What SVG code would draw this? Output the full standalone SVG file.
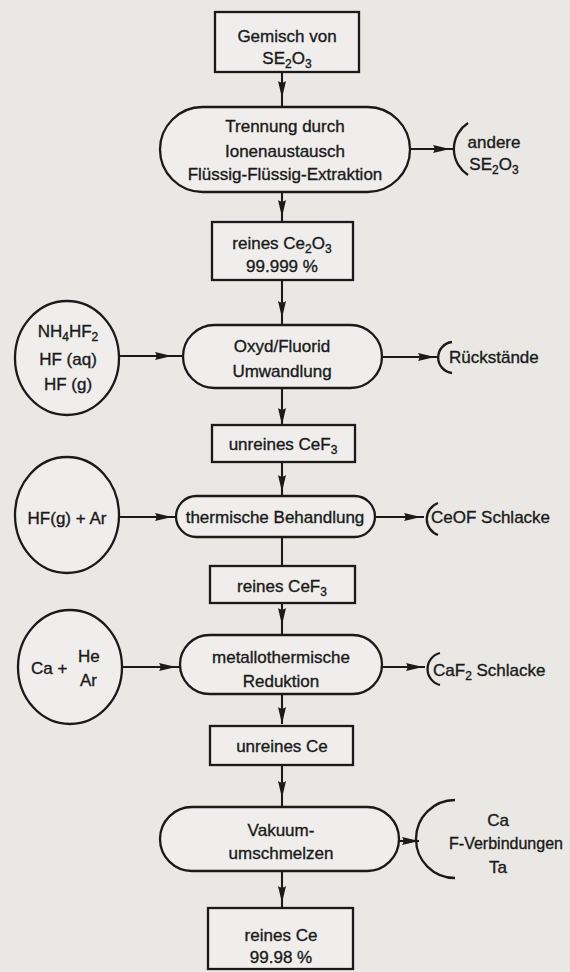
<svg xmlns="http://www.w3.org/2000/svg" width="570" height="972" viewBox="0 0 570 972">
<style>
text{font-family:"Liberation Sans",Arial,sans-serif;font-size:17px;fill:#1a1a1a;stroke:#1a1a1a;stroke-width:0.35}
.c{text-anchor:middle}
.sub{font-size:12px}
.shape{fill:#efeeec;stroke:#1a1a1a;stroke-width:2.3}
.br{fill:none;stroke:#1a1a1a;stroke-width:2.3}
.ln{fill:none;stroke:#1a1a1a;stroke-width:2.1}
.am{marker-mid:url(#ah)}
.ae{marker-end:url(#ah)}
</style>
<defs>
<marker id="ah" markerUnits="userSpaceOnUse" viewBox="0 0 17 9" markerWidth="17" markerHeight="9" refX="17" refY="4.5" orient="auto">
<path d="M0,0.5 L17,4.5 L0,8.5 Q3,4.5 0,0.5 z" fill="#1a1a1a"/>
</marker>
</defs>
<rect width="570" height="972" fill="#e9e8e5"/>

<g id="connectors">
<path class="ln am" d="M282,72 L282,98 L282,107"/>
<path class="ln am" d="M410,149 L450,149 L454,149"/>
<path class="ln am" d="M282,192 L282,217 L282,222"/>
<path class="ln am" d="M282,280 L282,318 L282,325"/>
<path class="ln am" d="M119,356 L172,356 L183,356"/>
<path class="ln am" d="M382,357 L435,357 L438,357"/>
<path class="ln ae" d="M282,388 L282,425"/>
<path class="ln am" d="M282,462 L282,492 L282,496"/>
<path class="ln am" d="M118,517 L172,517 L176,517"/>
<path class="ln am" d="M375,517 L421,517 L424,517"/>
<path class="ln" d="M282,537 L282,566"/>
<path class="ln am" d="M282,603 L282,625 L282,635"/>
<path class="ln am" d="M122,667 L176,667 L180,667"/>
<path class="ln am" d="M382,667 L423,667 L425,667"/>
<path class="ln ae" d="M282,694 L282,724"/>
<path class="ln am" d="M282,765 L282,798 L282,807"/>
<path class="ln ae" d="M399,841 L419,841"/>
<path class="ln am" d="M282,871 L282,903 L282,908"/>
</g>

<g id="n1">
<rect class="shape" x="215" y="12" width="144" height="60"/>
<text class="c" x="287" y="42">Gemisch von</text>
<text class="c" x="287" y="64">SE<tspan class="sub" dy="4">2</tspan><tspan dy="-4">O</tspan><tspan class="sub" dy="4">3</tspan></text>
</g>

<g id="n2">
<rect class="shape" x="160" y="107" width="250" height="85" rx="42.5"/>
<text class="c" x="285" y="132">Trennung durch</text>
<text class="c" x="285" y="157">Ionenaustausch</text>
<text class="c" x="285" y="180">Flüssig-Flüssig-Extraktion</text>
</g>

<g id="n2out">
<path class="br" d="M468,123 A31 31 0 0 0 468,175"/>
<text class="c" x="494" y="148">andere</text>
<text class="c" x="494" y="170">SE<tspan class="sub" dy="4">2</tspan><tspan dy="-4">O</tspan><tspan class="sub" dy="4">3</tspan></text>
</g>

<g id="n3">
<rect class="shape" x="212" y="222" width="141" height="58"/>
<text class="c" x="282" y="249">reines Ce<tspan class="sub" dy="4">2</tspan><tspan dy="-4">O</tspan><tspan class="sub" dy="4">3</tspan></text>
<text class="c" x="282" y="272">99.999 %</text>
</g>

<g id="in1">
<ellipse class="shape" cx="67" cy="358" rx="52" ry="57"/>
<text class="c" x="68" y="337">NH<tspan class="sub" dy="4">4</tspan><tspan dy="-4">HF</tspan><tspan class="sub" dy="4">2</tspan></text>
<text class="c" x="68" y="365">HF (aq)</text>
<text class="c" x="68" y="390">HF (g)</text>
</g>

<g id="n4">
<rect class="shape" x="183" y="325" width="199" height="63" rx="31.5"/>
<text class="c" x="282" y="352">Oxyd/Fluorid</text>
<text class="c" x="282" y="377">Umwandlung</text>
</g>

<g id="n4out">
<path class="br" d="M452,342 A15.6 15.6 0 0 0 452,373"/>
<text x="449" y="363">Rückstände</text>
</g>

<g id="n5">
<rect class="shape" x="212" y="425" width="143" height="37"/>
<text class="c" x="283" y="450">unreines CeF<tspan class="sub" dy="4">3</tspan></text>
</g>

<g id="in2">
<ellipse class="shape" cx="67" cy="515" rx="52" ry="58"/>
<text class="c" x="67" y="524">HF(g) + Ar</text>
</g>

<g id="n6">
<rect class="shape" x="176" y="496" width="199" height="41" rx="20.5"/>
<text class="c" x="275" y="523">thermische Behandlung</text>
</g>

<g id="n6out">
<path class="br" d="M438,503 A17 17 0 0 0 438,535"/>
<text x="431" y="523">CeOF Schlacke</text>
</g>

<g id="n7">
<rect class="shape" x="210" y="566" width="145" height="37"/>
<text class="c" x="282" y="592">reines CeF<tspan class="sub" dy="4">3</tspan></text>
</g>

<g id="in3">
<ellipse class="shape" cx="70" cy="667" rx="52" ry="57"/>
<text x="31" y="674">Ca +</text>
<text x="78" y="662">He</text>
<text x="80" y="686">Ar</text>
</g>

<g id="n8">
<rect class="shape" x="180" y="635" width="202" height="59" rx="29.5"/>
<text class="c" x="281" y="663">metallothermische</text>
<text class="c" x="281" y="687">Reduktion</text>
</g>

<g id="n8out">
<path class="br" d="M440,653 A16.5 16.5 0 0 0 440,685"/>
<text x="433" y="676">CaF<tspan class="sub" dy="4">2</tspan><tspan dy="-4"> Schlacke</tspan></text>
</g>

<g id="n9">
<rect class="shape" x="210" y="726" width="143" height="39"/>
<text class="c" x="282" y="752">unreines Ce</text>
</g>

<g id="n10">
<rect class="shape" x="160" y="807" width="239" height="64" rx="32"/>
<text class="c" x="281" y="836">Vakuum-</text>
<text class="c" x="281" y="859">umschmelzen</text>
</g>

<g id="n10out">
<path class="br" d="M455,800 A39 39 0 0 0 455,878"/>
<text class="c" x="498" y="826">Ca</text>
<text class="c" x="506" y="849" style="font-size:16px">F-Verbindungen</text>
<text class="c" x="498" y="873">Ta</text>
</g>

<g id="n11">
<rect class="shape" x="208" y="908" width="145" height="61"/>
<text class="c" x="281" y="941">reines Ce</text>
<text class="c" x="281" y="963">99.98 %</text>
</g>
</svg>
